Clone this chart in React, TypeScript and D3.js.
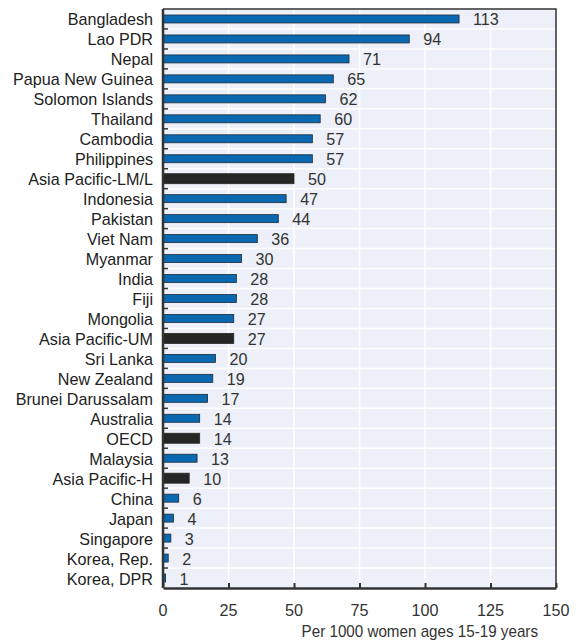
import { useRef, useEffect } from 'react';
import * as d3 from 'd3';

const countries = [
    'Bangladesh', 'Lao PDR', 'Nepal', 'Papua New Guinea', 'Solomon Islands', 'Thailand',
    'Cambodia', 'Philippines', 'Asia Pacific-LM/L', 'Indonesia', 'Pakistan', 'Viet Nam',
    'Myanmar', 'India', 'Fiji', 'Mongolia', 'Asia Pacific-UM', 'Sri Lanka', 'New Zealand',
    'Brunei Darussalam', 'Australia', 'OECD', 'Malaysia', 'Asia Pacific-H', 'China',
    'Japan', 'Singapore', 'Korea, Rep.', 'Korea, DPR'
];

const values = [
    113, 94, 71, 65, 62, 60,
    57, 57, 50, 47, 44, 36,
    30, 28, 28, 27, 27, 20, 19,
    17, 14, 14, 13, 10, 6,
    4, 3, 2, 1
];

const aggregates = ['Asia Pacific-LM/L', 'Asia Pacific-UM', 'OECD', 'Asia Pacific-H'];

const xTicks = [0, 25, 50, 75, 100, 125, 150];

const axisTitle = 'Per 1000 women ages 15-19 years';

const App = () => {
    const svgRef = useRef<SVGSVGElement | null>(null);

    useEffect(() => {
        const svgElement = svgRef.current;
        if (!svgElement) return;

        const width = 579;
        const height = 641;
        const margin = { top: 9, right: 23, bottom: 53, left: 163 };
        const font = '"Liberation Sans", Arial, sans-serif';
        const squeeze = 0.95; // narrow-ish look of the original font

        const svg = d3.select(svgElement);
        svg.selectAll('*').remove();

        const data = countries.map((c, i) => ({ name: c, value: values[i], agg: aggregates.includes(c) }));

        const x = d3.scaleLinear()
            .domain([0, 150])
            .range([margin.left, width - margin.right]);

        const y = d3.scaleBand()
            .domain(countries)
            .range([margin.top, height - margin.bottom]);

        const mid = (name: string) => y(name)! + y.bandwidth() / 2;

        // background
        svg.append('rect')
            .attr('x', x(0))
            .attr('y', margin.top)
            .attr('width', x(150) - x(0))
            .attr('height', height - margin.bottom - margin.top)
            .attr('fill', '#edf0f8');

        // vertical grid
        svg.append('g')
            .selectAll('line')
            .data(xTicks.slice(1, -1))
            .join('line')
            .attr('x1', d => x(d))
            .attr('x2', d => x(d))
            .attr('y1', margin.top)
            .attr('y2', height - margin.bottom)
            .attr('stroke', '#fff')
            .attr('stroke-width', 1.5);

        // horizontal separators
        svg.append('g')
            .selectAll('line')
            .data(countries.slice(1))
            .join('line')
            .attr('x1', x(0))
            .attr('x2', x(150))
            .attr('y1', d => y(d)!)
            .attr('y2', d => y(d)!)
            .attr('stroke', '#fff')
            .attr('stroke-width', 1.5);

        // left ticks at row boundaries
        svg.append('g')
            .selectAll('line')
            .data(countries.slice(1))
            .join('line')
            .attr('x1', x(0))
            .attr('x2', x(0) + 5)
            .attr('y1', d => y(d)!)
            .attr('y2', d => y(d)!)
            .attr('stroke', '#333')
            .attr('stroke-width', 1.5);

        // bars
        svg.append('g')
            .selectAll('rect')
            .data(data)
            .join('rect')
            .attr('x', x(0))
            .attr('y', d => mid(d.name) - (d.agg ? 5 : 4))
            .attr('width', d => x(d.value) - x(0))
            .attr('height', d => (d.agg ? 10 : 8))
            .attr('fill', d => (d.agg ? '#262626' : '#0a68b0'))
            .attr('stroke', d => (d.agg ? '#262626' : '#1d2b38'))
            .attr('stroke-width', 0.8);

        // value labels
        svg.append('g')
            .selectAll('text')
            .data(data)
            .join('text')
            .attr('transform', d => `translate(${x(d.value) + 14},${mid(d.name) + 6.5}) scale(${squeeze},1)`)
            .text(d => d.value)
            .style('font-family', font)
            .style('font-size', '17px')
            .style('fill', '#333');

        // category labels
        svg.append('g')
            .selectAll('text')
            .data(data)
            .join('text')
            .attr('transform', d => `translate(${x(0) - 10},${mid(d.name) + 6.5}) scale(${squeeze},1)`)
            .attr('text-anchor', 'end')
            .text(d => d.name)
            .style('font-family', font)
            .style('font-size', '17px')
            .style('fill', '#222');

        // frame
        svg.append('path')
            .attr('d', `M${x(0)},${margin.top}H${x(150)}V${height - margin.bottom}`)
            .attr('fill', 'none')
            .attr('stroke', '#333')
            .attr('stroke-width', 1.5);

        // left axis line
        svg.append('line')
            .attr('x1', x(0))
            .attr('x2', x(0))
            .attr('y1', margin.top)
            .attr('y2', height - margin.bottom)
            .attr('stroke', '#333')
            .attr('stroke-width', 2.5);

        const xAxis = svg.append('g')
            .attr('transform', `translate(0, ${height - margin.bottom})`)
            .call(d3.axisBottom(x)
                .tickValues(xTicks)
                .tickSize(-5)
                .tickFormat(() => '')
                .tickSizeOuter(0)
            );

        xAxis.select('.domain')
            .attr('stroke', '#333')
            .attr('stroke-width', 2.5);

        xAxis.selectAll('.tick line')
            .attr('stroke', '#333')
            .attr('stroke-width', 2);

        // x tick labels
        svg.append('g')
            .selectAll('text')
            .data(xTicks)
            .join('text')
            .attr('transform', d => `translate(${x(d)},${height - margin.bottom + 28}) scale(${squeeze},1)`)
            .attr('text-anchor', 'middle')
            .text(d => d)
            .style('font-family', font)
            .style('font-size', '17px')
            .style('fill', '#333');

        svg.append('text')
            .attr('transform', `translate(538,637) scale(${squeeze},1)`)
            .attr('text-anchor', 'end')
            .text(axisTitle)
            .style('font-family', font)
            .style('font-size', '16px')
            .style('fill', '#333');
    }, []);

    return (
        <svg ref={svgRef} width={579} height={641}
            style={{ position: 'absolute', left: 0, top: 0, background: '#fff' }}></svg>
    );
};

export default App;
